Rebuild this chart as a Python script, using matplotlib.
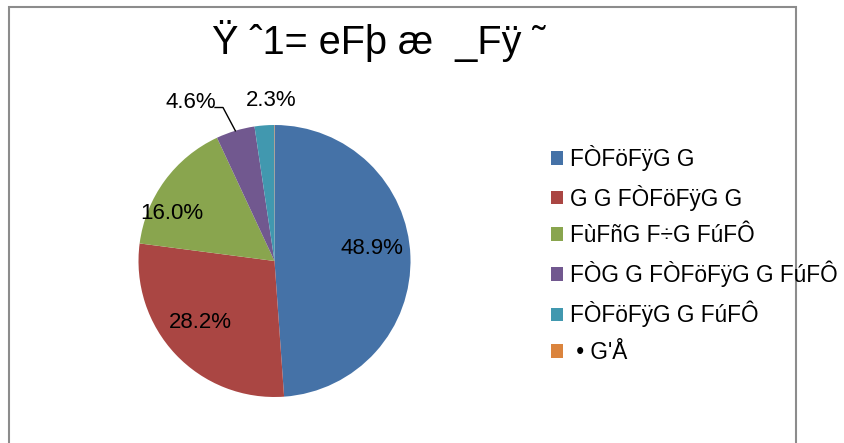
import matplotlib.pyplot as plt
import matplotlib.patches as patches
import numpy as np

plt.rcParams['font.family'] = ['Liberation Sans', 'DejaVu Sans']

title = 'Ÿ ˆ1= eFþ æ  _Fÿ ˜'
labels = ['FÒFöFÿG G', 'G G FÒFöFÿG G', 'FùFñG F÷G FúFÔ',
          'FÒG G FÒFöFÿG G FúFÔ', 'FÒFöFÿG G FúFÔ', ' • G\'Å']
values = [48.9, 28.2, 16.0, 4.6, 2.3, 0.05]
pct_text = ['48.9%', '28.2%', '16.0%', '4.6%', '2.3%', '']
colors = ['#4572A7', '#AA4643', '#89A54E', '#71588F', '#4198AF', '#DB843D']

# label placement: (radius, angle offset in degrees)
label_pos = [(0.72, 5.6), (0.71, -3.4), (0.83, 11.3), (1.32, 11.0), (1.18, -3.2), (0, 0)]

W, H = 845, 443
fig = plt.figure(figsize=(W / 100, H / 100), dpi=100)

# outer chart frame
fig.patches.append(patches.Rectangle((9 / W, -0.05), (796 - 9) / W, 1.05 - 7 / H,
                                     transform=fig.transFigure, fill=False,
                                     edgecolor='#8c8c8c', linewidth=1.5))

cx, cy, r = 274.5, H - 261, 136
ax = fig.add_axes([(cx - r) / W, (cy - r) / H, 2 * r / W, 2 * r / H])
wedges, _ = ax.pie(values, colors=colors, startangle=90, counterclock=False,
                   radius=1, wedgeprops=dict(linewidth=0))
ax.set_xlim(-1, 1)
ax.set_ylim(-1, 1)

for w, txt, (rr, off) in zip(wedges, pct_text, label_pos):
    if not txt:
        continue
    mid = np.deg2rad((w.theta1 + w.theta2) / 2 + off)
    ax.text(rr * np.cos(mid), rr * np.sin(mid), txt, ha='center', va='center',
            fontsize=16, color='black')

# leader line for the small purple slice
pw = wedges[3]
pm = np.deg2rad((pw.theta1 + pw.theta2) / 2)
ax.plot([(215 - cx) / r, (223 - cx) / r, np.cos(pm)],
        [(H - 107.5 - cy) / r, (H - 107.5 - cy) / r, np.sin(pm)],
        color='black', linewidth=1, clip_on=False)

fig.text(379 / W, 1 - 54 / H, title, ha='center', va='baseline', fontsize=28.5)

fig.legend(wedges, labels, loc='upper left', bbox_to_anchor=(551 / W, 1 - 145 / H),
           frameon=False, fontsize=16.3, handlelength=0.55, handleheight=0.55,
           handletextpad=0.3, labelspacing=0.6, borderpad=0, borderaxespad=0)

fig.savefig('out.png', dpi=100)
